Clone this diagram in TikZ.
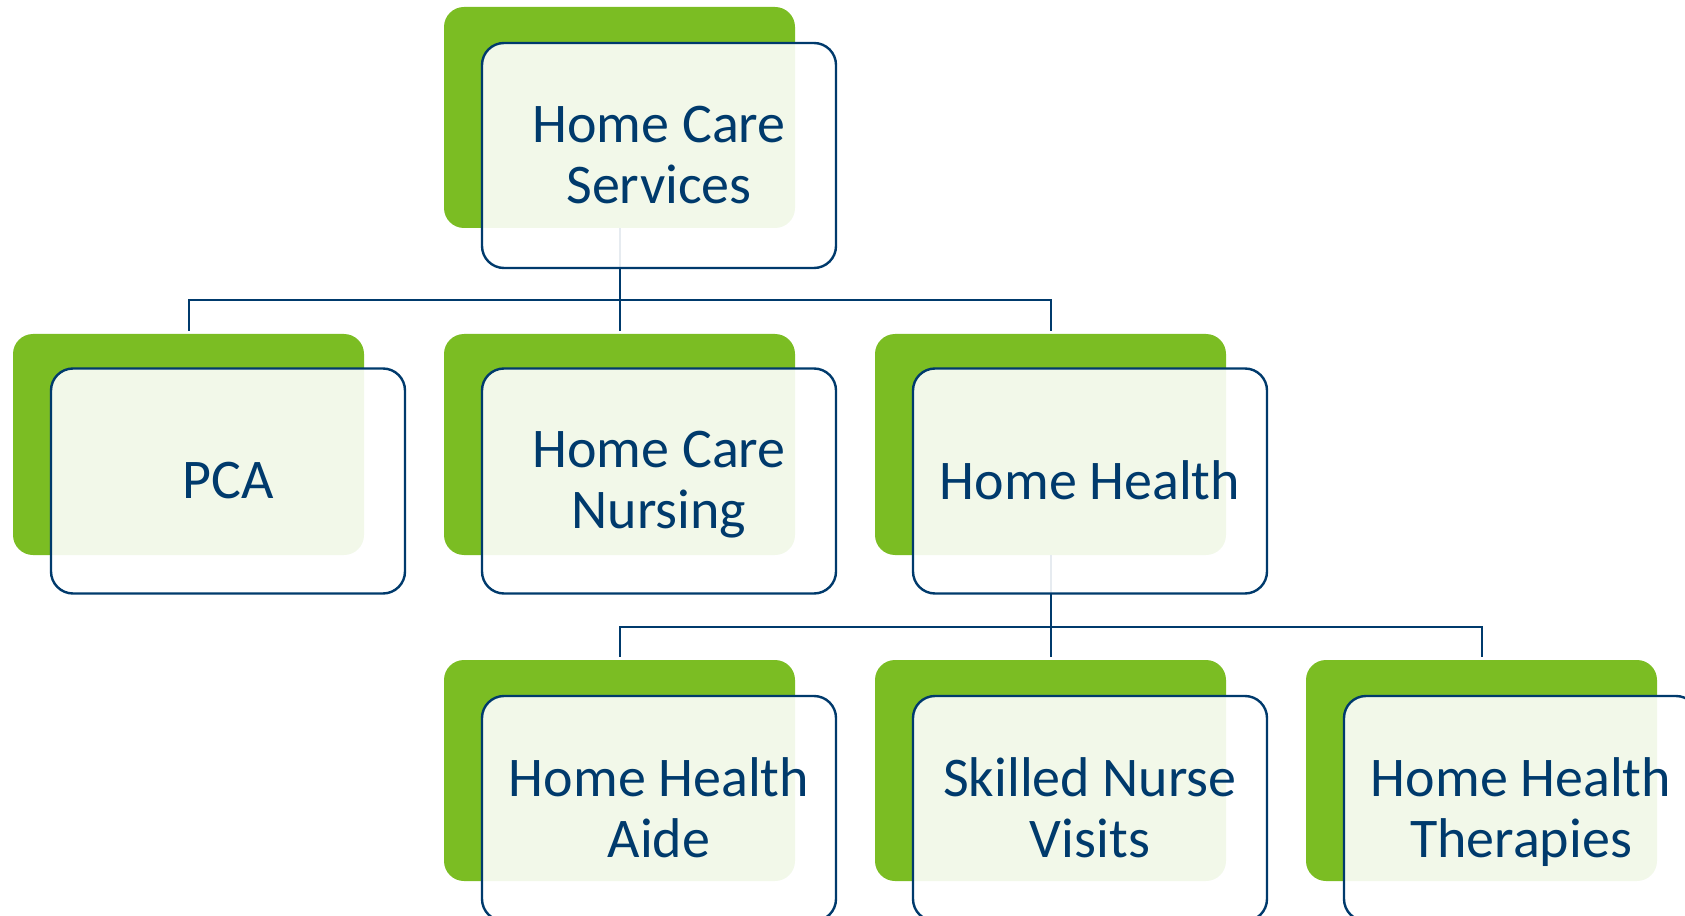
\documentclass[tikz,border=0pt]{standalone}
\usepackage{fontspec}
\setmainfont{Carlito}
\definecolor{leaf}{HTML}{7BBD23}
\definecolor{navy}{HTML}{003A6C}
\tikzset{
  greenbox/.style={rectangle, rounded corners=15pt, fill=leaf, draw=none,
    minimum width=263.25pt, minimum height=165.75pt, inner sep=0pt},
  textbox/.style={rectangle, rounded corners=16.5pt, draw=navy, line width=1.8pt,
    fill=white, fill opacity=0.9, text opacity=1, text=navy,
    minimum width=265.5pt, minimum height=168.75pt, inner sep=0pt,
    align=center, text depth=0pt,
    font=\fontsize{42pt}{45.75pt}\selectfont},
  link/.style={draw=navy, line width=1.5pt}
}
\begin{document}
\begin{tikzpicture}[x=0.75pt, y=-0.75pt]
\useasboundingbox (0,0) rectangle (1685,916);
\clip (0,0) rectangle (1685,916);
% green back boxes
\node[greenbox] (g1) at (619.5,117.5) {};
\node[greenbox] (g2) at (188.5,444.5) {};
\node[greenbox] (g3) at (619.5,444.5) {};
\node[greenbox] (g4) at (1050.5,444.5) {};
\node[greenbox] (g5) at (619.5,770.5) {};
\node[greenbox] (g6) at (1050.5,770.5) {};
\node[greenbox] (g7) at (1481.5,770.5) {};
% connectors
\coordinate (bus1) at (619.5,300);
\coordinate (bus2) at (1050.5,627);
\draw[link] (g1.south) -- (bus1);
\draw[link] (bus1) -| ([yshift=2pt]g2.north);
\draw[link] (bus1) -| ([yshift=2pt]g3.north);
\draw[link] (bus1) -| ([yshift=2pt]g4.north);
\draw[link] (g4.south) -- (bus2);
\draw[link] (bus2) -| ([yshift=2pt]g5.north);
\draw[link] (bus2) -| ([yshift=2pt]g6.north);
\draw[link] (bus2) -| ([yshift=2pt]g7.north);
% outlined text boxes
\node[textbox] (w1) at (659,155.5) {\raisebox{1.2pt}{Home Care}\\\raisebox{1.2pt}{Services}};
\node[textbox] (w2) at (228,481) {\raisebox{1.2pt}{PCA}};
\node[textbox] (w3) at (659,481) {\raisebox{1.2pt}{Home Care}\\\raisebox{1.2pt}{Nursing}};
\node[textbox] (w4) at (1090,481) {\raisebox{1.2pt}{Home Health}};
\node[textbox] (w5) at (659,808.5) {\raisebox{1.2pt}{Home Health}\\\raisebox{1.2pt}{Aide}};
\node[textbox] (w6) at (1090,808.5) {\raisebox{1.2pt}{Skilled Nurse}\\\raisebox{1.2pt}{Visits}};
\node[textbox] (w7) at (1521,808.5) {\raisebox{1.2pt}{Home Health}\\\raisebox{1.2pt}{Therapies}};
\end{tikzpicture}
\end{document}
